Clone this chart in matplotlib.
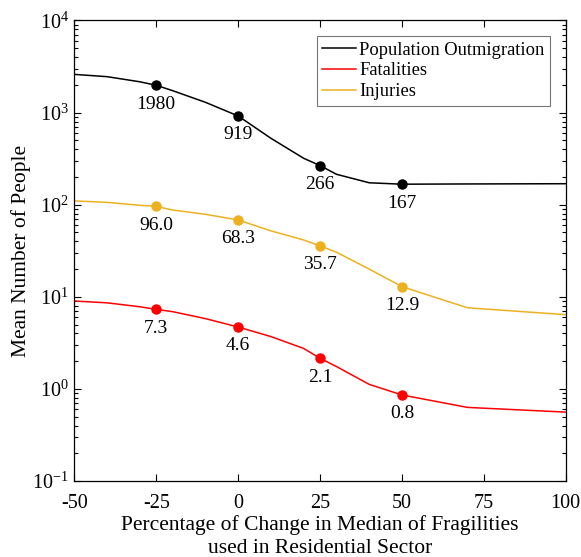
import numpy as np
import matplotlib
matplotlib.use("Agg")
import matplotlib.pyplot as plt
from matplotlib.ticker import LogLocator, NullFormatter, FixedLocator

plt.rcParams["font.family"] = ["Liberation Serif", "DejaVu Serif"]
plt.rcParams["mathtext.fontset"] = "custom"
plt.rcParams["mathtext.rm"] = "Liberation Serif"
plt.rcParams["mathtext.it"] = "Liberation Serif:italic"

# curve values
x = [-50, -40, -30, -25, -20, -10, 0, 10, 20, 25, 30, 40, 50, 70, 100]
outmigration = [2600, 2455, 2160, 1980, 1730, 1294, 919, 526, 319, 266, 214, 173, 167, 168, 169]
injuries = [110, 106, 98.5, 96.0, 87.5, 78.7, 68.3, 52, 41.4, 35.7, 30.5, 20, 12.9, 7.6, 6.4]
fatalities = [9.0, 8.6, 7.8, 7.3, 6.9, 5.8, 4.7, 3.7, 2.75, 2.15, 1.75, 1.12, 0.86, 0.63, 0.56]

# highlighted points and their labels
mark_x = [-25, 0, 25, 50]
mark_out = [1980, 919, 266, 167]
mark_inj = [96.0, 68.3, 35.7, 12.9]
mark_fat = [7.3, 4.7, 2.15, 0.86]
lab_out = ["1980", "919", "266", "167"]
lab_inj = ["96.0", "68.3", "35.7", "12.9"]
lab_fat = ["7.3", "4.6", "2.1", "0.8"]

ytick_vals = [0.1, 1, 10, 100, 1000, 10000]
ytick_labs = ["10$^{-1}$", "10$^{0}$", "10$^{1}$", "10$^{2}$", "10$^{3}$", "10$^{4}$"]
xtick_vals = [-50, -25, 0, 25, 50, 75, 100]

c_out, c_fat, c_inj = "black", "#FF0000", "#EDB120"

fig = plt.figure(figsize=(5.81, 5.57), dpi=100)
ax = fig.add_axes([0.128, 0.1364, 0.8458, 0.8268])

ax.plot(x, outmigration, color=c_out, lw=1.1, label="Population Outmigration")
ax.plot(x, fatalities, color=c_fat, lw=1.1, label="Fatalities")
ax.plot(x, injuries, color=c_inj, lw=1.1, label="Injuries")

for ys, labs, c in [(mark_out, lab_out, c_out), (mark_inj, lab_inj, c_inj),
                    (mark_fat, lab_fat, c_fat)]:
    ax.plot(mark_x, ys, "o", color=c, ms=6.5, ls="none")
    for xi, yi, t in zip(mark_x, ys, labs):
        ax.annotate(t, (xi, yi), xytext=(0, -7.5), textcoords="offset points",
                    ha="center", va="top", fontsize=14)

ax.set_yscale("log")
ax.set_xlim(-50, 100)
ax.set_ylim(0.1, 1e4)
ax.set_xticks(xtick_vals)
ax.set_xticklabels([str(v) for v in xtick_vals])
ax.yaxis.set_major_locator(FixedLocator(ytick_vals))
ax.set_yticklabels(ytick_labs)
ax.yaxis.set_minor_locator(LogLocator(base=10, subs=np.arange(2, 10), numticks=20))
ax.yaxis.set_minor_formatter(NullFormatter())
ax.tick_params(which="both", direction="in", top=True, right=True, labelsize=14.5)
ax.tick_params(which="major", length=5, width=0.8)
ax.tick_params(which="minor", length=3, width=0.8)
ax.tick_params(axis="x", pad=9)
ax.tick_params(axis="y", pad=4)
for sp in ax.spines.values():
    sp.set_linewidth(0.9)

ax.set_xlabel("Percentage of Change in Median of Fragilities\nused in Residential Sector",
              fontsize=15.5, linespacing=1.25, labelpad=2)
ax.set_ylabel("Mean Number of People", fontsize=15.5, labelpad=1)

leg = ax.legend(loc="upper right", fontsize=13.3, frameon=True, fancybox=False,
                edgecolor="#555555", handlelength=1.8, handletextpad=0.2,
                borderpad=0.3, labelspacing=0.2, borderaxespad=0.85)
leg.get_frame().set_linewidth(0.8)

fig.savefig("out.png", dpi=100)
